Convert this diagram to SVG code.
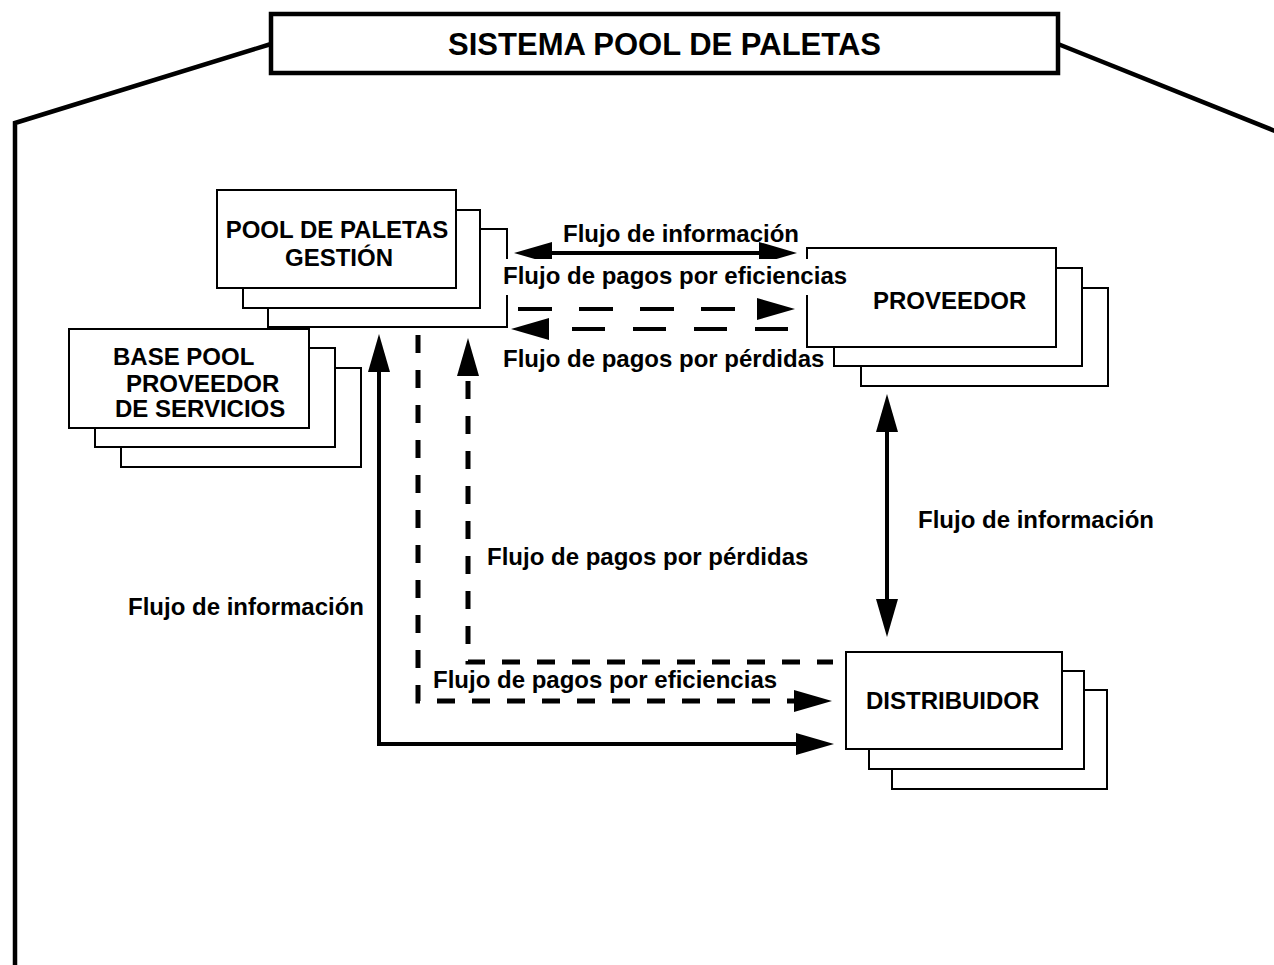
<svg xmlns="http://www.w3.org/2000/svg" width="1274" height="965" viewBox="0 0 1274 965">
<style>
text{font-family:"Liberation Sans",Arial,Helvetica,sans-serif;font-weight:bold;fill:#000}
.lbl{font-size:24px}
.ttl{font-size:31px}
.box{fill:#fff;stroke:#000;stroke-width:2}
.frame{fill:none;stroke:#000;stroke-width:4.5;stroke-linejoin:miter}
.solid{fill:none;stroke:#000;stroke-width:4}
.dl{fill:none;stroke:#000;stroke-width:4}
.ds{fill:none;stroke:#000;stroke-width:5;stroke-dasharray:18 17}
</style>
<defs>
<marker id="ah" markerUnits="userSpaceOnUse" markerWidth="40" markerHeight="24" viewBox="0 0 40 24" refX="1" refY="12" orient="auto-start-reverse">
<path d="M0,1 L38,12 L0,23 z" fill="#000"/>
</marker>
</defs>
<rect width="1274" height="965" fill="#fff"/>
<g id="frame">
<polyline class="frame" points="15,968 15,123 271,44"/>
<polyline class="frame" points="1058,44 1280,133"/>
</g>
<g id="title">
<rect x="271" y="14" width="787" height="59" fill="#fff" stroke="#000" stroke-width="4.5"/>
<text class="ttl" x="664.5" y="55" text-anchor="middle">SISTEMA POOL DE PALETAS</text>
</g>
<g id="pool-gestion">
<rect class="box" x="268" y="229" width="239" height="98"/>
<rect class="box" x="243" y="210" width="237" height="98"/>
<rect class="box" x="217" y="190" width="239" height="98"/>
<text class="lbl" x="337" y="238" text-anchor="middle">POOL DE PALETAS</text>
<text class="lbl" x="339" y="266" text-anchor="middle">GESTIÓN</text>
</g>
<g id="base-pool">
<rect class="box" x="121" y="368" width="240" height="99"/>
<rect class="box" x="95" y="348" width="240" height="99"/>
<rect class="box" x="69" y="329" width="240" height="99"/>
<text class="lbl" x="113" y="365">BASE POOL</text>
<text class="lbl" x="126" y="392">PROVEEDOR</text>
<text class="lbl" x="115" y="417">DE SERVICIOS</text>
</g>
<g id="proveedor">
<rect class="box" x="861" y="288" width="247" height="98"/>
<rect class="box" x="834" y="268" width="248" height="98"/>
<rect class="box" x="807" y="248" width="249" height="99"/>
<text class="lbl" x="873" y="309">PROVEEDOR</text>
</g>
<g id="distribuidor">
<rect class="box" x="892" y="690" width="215" height="99"/>
<rect class="box" x="869" y="671" width="215" height="98"/>
<rect class="box" x="846" y="652" width="216" height="97"/>
<text class="lbl" x="866" y="709">DISTRIBUIDOR</text>
</g>
<g id="connectors">
<line class="solid" x1="551" y1="253" x2="760" y2="253" marker-start="url(#ah)" marker-end="url(#ah)"/>
<line class="dl" x1="518" y1="309" x2="758" y2="309" stroke-dasharray="34 27" marker-end="url(#ah)"/>
<line class="dl" x1="788" y1="329" x2="548" y2="329" stroke-dasharray="33 28" marker-end="url(#ah)"/>
<line class="solid" x1="887" y1="431" x2="887" y2="600" marker-start="url(#ah)" marker-end="url(#ah)"/>
<path class="solid" d="M379,371 L379,744 L797,744" marker-start="url(#ah)" marker-end="url(#ah)"/>
<path class="ds" d="M418,335 L418,701 L795,701" marker-end="url(#ah)"/>
<path class="ds" d="M468,375 L468,662 L833,662" stroke-dashoffset="29" marker-start="url(#ah)"/>
<rect x="500" y="259" width="348" height="36" fill="#fff"/>
<text class="lbl" x="563" y="242">Flujo de información</text>
<text class="lbl" x="503" y="284">Flujo de pagos por eficiencias</text>
<text class="lbl" x="503" y="367">Flujo de pagos por pérdidas</text>
<text class="lbl" x="918" y="528">Flujo de información</text>
<text class="lbl" x="487" y="565">Flujo de pagos por pérdidas</text>
<text class="lbl" x="128" y="615">Flujo de información</text>
<text class="lbl" x="433" y="688">Flujo de pagos por eficiencias</text>
</g>
</svg>
